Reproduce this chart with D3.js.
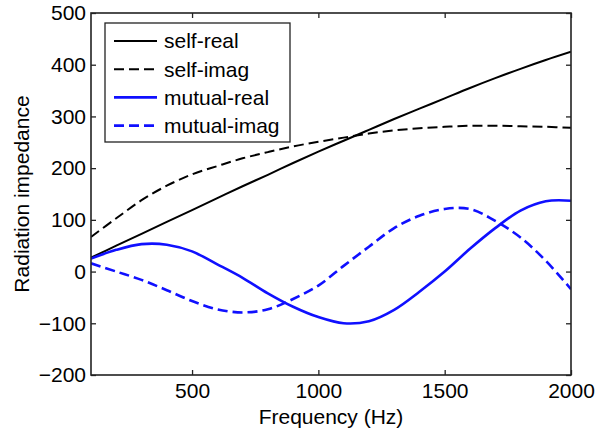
<!DOCTYPE html>
<html>
<head>
<meta charset="utf-8">
<script src="https://cdn.jsdelivr.net/npm/d3@7"></script>
<style>
  body { margin: 0; background: #fff; }
  svg { display: block; font-family: "Liberation Sans", Arial, sans-serif; }
</style>
</head>
<body>
<svg id="chart" width="596" height="434"></svg>
<script>
// frequency samples (Hz)
const freqs = [100, 200, 300, 400, 500, 600, 700, 800, 900, 1000,
  1100, 1200, 1300, 1400, 1500, 1600, 1700, 1800, 1900, 2000];

const selfReal = [27, 50, 73, 96, 119, 142, 165, 187, 210, 232,
  253, 274, 295, 315, 335, 355, 374, 392, 409, 425];
const selfImag = [67, 103, 138, 166, 188, 204, 219, 231, 242, 251,
  259, 267, 273, 277, 280, 282, 282, 281, 280, 278];
const mutualReal = [25, 42, 53, 52, 39, 14, -12, -42, -68, -88,
  -100, -96, -74, -39, 0, 44, 84, 118, 136, 137];
const mutualImag = [16, 0, -16, -36, -57, -73, -79, -73, -53, -27,
  11, 48, 84, 108, 121, 121, 98, 66, 21, -34];

const seriesNames = ['self-real', 'self-imag', 'mutual-real', 'mutual-imag'];
const seriesValues = [selfReal, selfImag, mutualReal, mutualImag];
const seriesColors = ['#000000', '#000000', '#1010ff', '#1010ff'];
const seriesDashed = [false, true, false, true];

const xTicks = [500, 1000, 1500, 2000];
const yTicks = [-200, -100, 0, 100, 200, 300, 400, 500];

const margin = { top: 13, right: 25, bottom: 59, left: 91 };
const width = 596;
const height = 434;
const plotW = width - margin.left - margin.right;
const plotH = height - margin.top - margin.bottom;
const fontSize = 21;

const svg = d3.select('#chart');
const g = svg.append('g')
  .attr('transform', `translate(${margin.left},${margin.top})`);

const x = d3.scaleLinear().domain([100, 2000]).range([0, plotW]);
const y = d3.scaleLinear().domain([-200, 500]).range([plotH, 0]);

// clip for lines
g.append('clipPath').attr('id', 'clip')
  .append('rect').attr('width', plotW).attr('height', plotH);

const line = d3.line()
  .x((d) => x(d[0]))
  .y((d) => y(d[1]))
  .curve(d3.curveCatmullRom.alpha(0.5));

const lines = g.append('g').attr('clip-path', 'url(#clip)');
seriesValues.forEach((vals, i) => {
  lines.append('path')
    .datum(freqs.map((f, j) => [f, vals[j]]))
    .attr('fill', 'none')
    .attr('stroke', seriesColors[i])
    .attr('stroke-width', i < 2 ? 2 : 2.6)
    .attr('stroke-dasharray', seriesDashed[i] ? '10,5' : null)
    .attr('d', line);
});

// axes, MATLAB style: ticks inside on all four sides
const styleAxis = (sel) => {
  sel.select('.domain').remove();
  sel.selectAll('.tick line').attr('stroke', '#222').attr('stroke-width', 1.3);
  sel.selectAll('.tick text')
    .attr('fill', '#000')
    .attr('font-size', fontSize)
    .attr('font-family', '"Liberation Sans", Arial, sans-serif');
};

const fmt = d3.format('d');

g.append('g')
  .attr('transform', `translate(0,${plotH})`)
  .call(d3.axisBottom(x).tickValues(xTicks).tickFormat(fmt).tickSize(-5).tickPadding(8))
  .call(styleAxis);

g.append('g')
  .call(d3.axisTop(x).tickValues(xTicks).tickSize(-5).tickFormat(''))
  .call(styleAxis);

g.append('g')
  .call(d3.axisLeft(y).tickValues(yTicks).tickFormat(fmt).tickSize(-5).tickPadding(5))
  .call(styleAxis);

g.append('g')
  .attr('transform', `translate(${plotW},0)`)
  .call(d3.axisRight(y).tickValues(yTicks).tickSize(-5).tickFormat(''))
  .call(styleAxis);

g.append('rect')
  .attr('width', plotW)
  .attr('height', plotH)
  .attr('fill', 'none')
  .attr('stroke', '#222')
  .attr('stroke-width', 1.6);

// axis titles
svg.append('text')
  .attr('x', margin.left + plotW / 2)
  .attr('y', 424)
  .attr('text-anchor', 'middle')
  .attr('font-size', fontSize)
  .text('Frequency (Hz)');

svg.append('text')
  .attr('transform', `translate(29,${margin.top + plotH / 2}) rotate(-90)`)
  .attr('text-anchor', 'middle')
  .attr('font-size', fontSize)
  .text('Radiation impedance');

// legend
const legend = g.append('g').attr('transform', 'translate(14,10)');
legend.append('rect')
  .attr('width', 185)
  .attr('height', 119)
  .attr('fill', '#fff')
  .attr('stroke', '#222')
  .attr('stroke-width', 1.3);

seriesNames.forEach((name, i) => {
  const row = legend.append('g').attr('transform', `translate(0,${18 + i * 28.2})`);
  row.append('line')
    .attr('x1', 9).attr('x2', 52)
    .attr('y1', 0).attr('y2', 0)
    .attr('stroke', seriesColors[i])
    .attr('stroke-width', i < 2 ? 2 : 2.6)
    .attr('stroke-dasharray', seriesDashed[i] ? '10,5' : null);
  row.append('text')
    .attr('x', 59)
    .attr('y', 0)
    .attr('dy', '0.35em')
    .attr('font-size', fontSize)
    .text(name);
});
</script>
</body>
</html>
